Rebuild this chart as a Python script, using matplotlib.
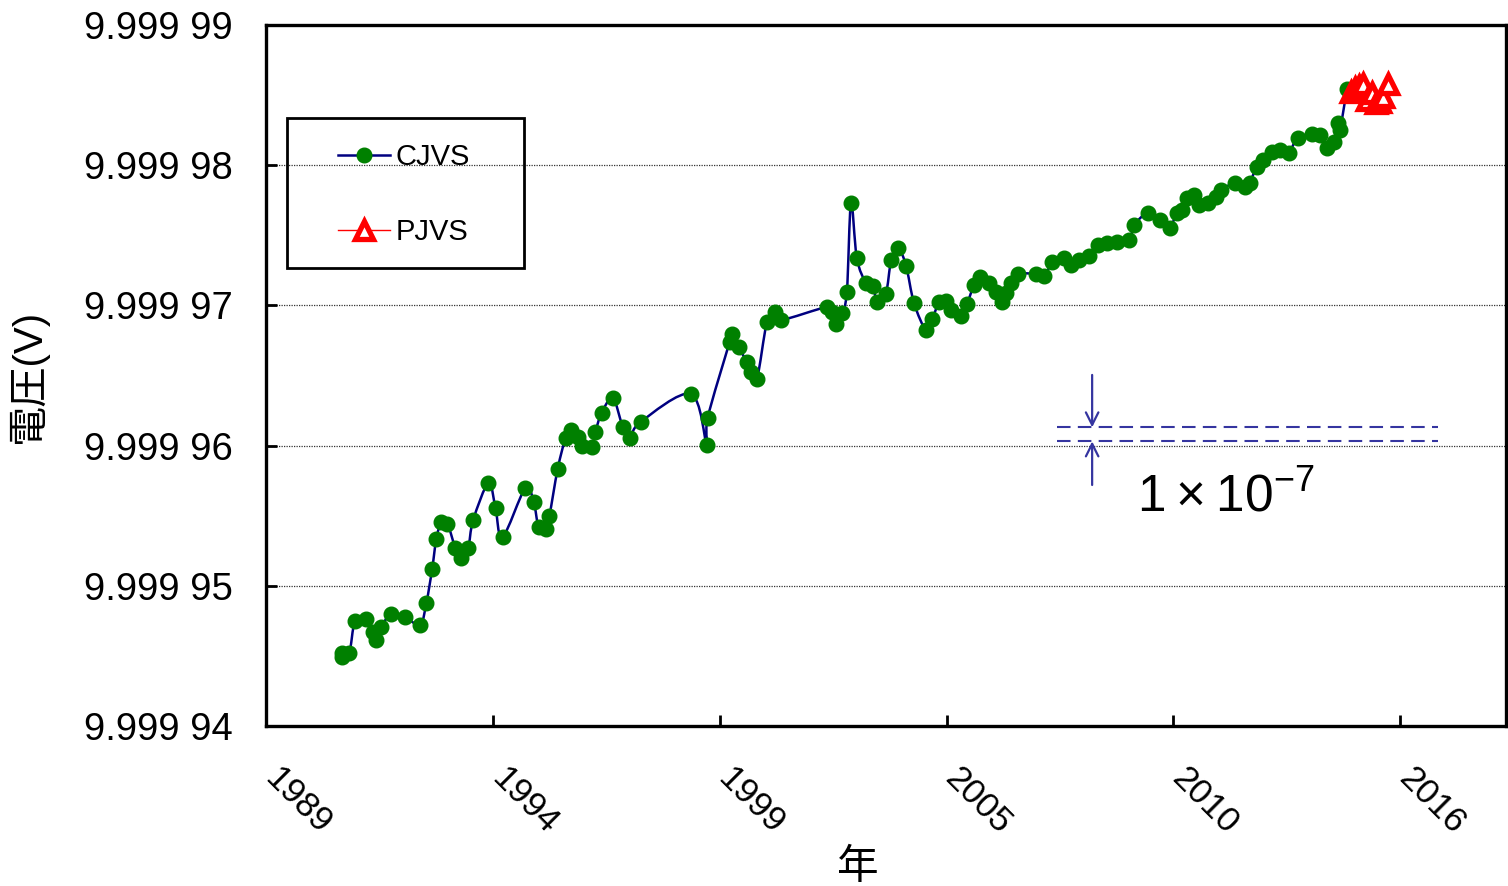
import numpy as np
import matplotlib
matplotlib.use("Agg")
import matplotlib.pyplot as plt
from matplotlib.path import Path
from matplotlib.patches import PathPatch, Rectangle
from matplotlib.lines import Line2D
from matplotlib.ticker import FuncFormatter, FixedLocator
from matplotlib.transforms import ScaledTranslation

plt.rcParams['font.family'] = ['Liberation Sans', 'Noto Sans CJK JP', 'DejaVu Sans']
plt.rcParams['mathtext.fontset'] = 'custom'
plt.rcParams['mathtext.rm'] = 'Liberation Sans'

# CJVS 測定値 (年, V)
cjvs_year = [
    1990.84, 1990.84, 1991.01, 1991.15, 1991.42, 1991.59, 1991.66, 1991.78, 1992.02, 1992.36,
    1992.72, 1992.87, 1993.01, 1993.11, 1993.23, 1993.38, 1993.57, 1993.71, 1993.88, 1994.00,
    1994.37, 1994.54, 1994.71, 1995.26, 1995.46, 1995.58, 1995.75, 1995.84, 1996.04, 1996.23,
    1996.37, 1996.52, 1996.62, 1996.86, 1996.95, 1997.10, 1997.37, 1997.61, 1997.78, 1998.04,
    1999.25, 1999.64, 1999.66, 2000.19, 2000.24, 2000.41, 2000.60, 2000.70, 2000.85, 2001.09,
    2001.28, 2001.43, 2002.54, 2002.66, 2002.76, 2002.90, 2003.02, 2003.12, 2003.26, 2003.48,
    2003.65, 2003.75, 2003.96, 2004.09, 2004.26, 2004.45, 2004.64, 2004.93, 2005.08, 2005.25,
    2005.42, 2005.54, 2005.78, 2005.92, 2006.09, 2006.24, 2006.46, 2006.62, 2006.77, 2006.87,
    2006.99, 2007.16, 2007.59, 2007.79, 2007.98, 2008.27, 2008.44, 2008.63, 2008.87, 2009.07,
    2009.31, 2009.55, 2009.84, 2009.96, 2010.28, 2010.57, 2010.81, 2010.98, 2011.12, 2011.24,
    2011.41, 2011.53, 2011.73, 2011.94, 2012.06, 2012.38, 2012.62, 2012.74, 2012.91, 2013.06,
    2013.27, 2013.47, 2013.68, 2013.90, 2014.24, 2014.43, 2014.60, 2014.77, 2014.87, 2014.92,
    2015.09,
]
cjvs_volt = [
    9.99994492, 9.99994521, 9.99994521, 9.99994749, 9.99994763, 9.99994670, 9.99994613, 9.99994706, 9.99994799, 9.99994777,
    9.99994720, 9.99994877, 9.99995120, 9.99995334, 9.99995455, 9.99995441, 9.99995270, 9.99995198, 9.99995270, 9.99995469,
    9.99995733, 9.99995555, 9.99995348, 9.99995698, 9.99995598, 9.99995419, 9.99995405, 9.99995498, 9.99995833, 9.99996054,
    9.99996111, 9.99996061, 9.99995997, 9.99995990, 9.99996097, 9.99996233, 9.99996339, 9.99996133, 9.99996054, 9.99996168,
    9.99996368, 9.99996004, 9.99996197, 9.99996739, 9.99996796, 9.99996703, 9.99996596, 9.99996525, 9.99996475, 9.99996882,
    9.99996953, 9.99996896, 9.99996989, 9.99996953, 9.99996867, 9.99996946, 9.99997096, 9.99997730, 9.99997338, 9.99997160,
    9.99997138, 9.99997024, 9.99997081, 9.99997324, 9.99997409, 9.99997281, 9.99997017, 9.99996825, 9.99996903, 9.99997024,
    9.99997031, 9.99996967, 9.99996924, 9.99997010, 9.99997146, 9.99997203, 9.99997160, 9.99997096, 9.99997024, 9.99997088,
    9.99997160, 9.99997224, 9.99997224, 9.99997210, 9.99997310, 9.99997338, 9.99997288, 9.99997324, 9.99997352, 9.99997431,
    9.99997445, 9.99997452, 9.99997466, 9.99997573, 9.99997659, 9.99997609, 9.99997552, 9.99997659, 9.99997680, 9.99997766,
    9.99997787, 9.99997716, 9.99997730, 9.99997773, 9.99997823, 9.99997873, 9.99997845, 9.99997873, 9.99997987, 9.99998037,
    9.99998094, 9.99998108, 9.99998087, 9.99998194, 9.99998223, 9.99998215, 9.99998123, 9.99998165, 9.99998301, 9.99998251,
    9.99998543,
]

# PJVS 測定値
pjvs_year = [2015.18, 2015.28, 2015.37, 2015.47, 2015.57, 2015.69, 2015.79, 2015.88, 2015.95, 2016.08]
pjvs_volt = [9.99998522, 9.99998551, 9.99998565, 9.99998579, 9.99998465,
             9.99998515, 9.99998444, 9.99998451, 9.99998486, 9.99998579]

series_names = ['CJVS', 'PJVS']
y_ticks = [9.99994, 9.99995, 9.99996, 9.99997, 9.99998, 9.99999]
band_levels = [9.9999613, 9.9999603]   # 1 µV 幅 (10 V に対し 1e-7)

# 目盛は 2000 日間隔
x_start = 1989.0
x_step = 2000 / 365.25
x_ticks = [x_start + k * x_step for k in range(6)]
x_end = x_start + 5.466 * x_step


def smooth_path(x, y):
    # Catmull-Rom 型のベジェ曲線で点を滑らかにつなぐ
    p = np.column_stack([x, y])
    n = len(p)
    verts = [p[0]]
    codes = [Path.MOVETO]
    for i in range(n - 1):
        p0 = p[i - 1] if i > 0 else p[i]
        p3 = p[i + 2] if i + 2 < n else p[i + 1]
        c1 = p[i] + (p[i + 1] - p0) / 6
        c2 = p[i + 1] - (p3 - p[i]) / 6
        verts += [c1, c2, p[i + 1]]
        codes += [Path.CURVE4] * 3
    return Path(verts, codes)


fig = plt.figure(figsize=(15.08, 8.86), dpi=100)
ax = fig.add_axes([0.1764, 0.1806, 0.8223, 0.7912])

cjvs_style = dict(marker='o', ms=10.5, mfc='#008000', mec='#008000')
pjvs_style = dict(marker='^', ms=13, mfc='white', mec='red', mew=3.8)

ax.add_patch(PathPatch(smooth_path(cjvs_year, cjvs_volt), fill=False,
                       edgecolor='#000080', lw=1.8, zorder=3))
ax.plot(cjvs_year, cjvs_volt, linestyle='none', zorder=4, **cjvs_style)

ax.add_patch(PathPatch(smooth_path(pjvs_year, pjvs_volt), fill=False,
                       edgecolor='red', lw=1.0, zorder=5))
ax.plot(pjvs_year, pjvs_volt, linestyle='none', zorder=6, **pjvs_style)

# 1e-7 幅の表示
arrow_x = 2008.94
band_color = '#3535a0'
ax.hlines(band_levels, 2008.10, 2017.28, colors=band_color, linestyles=(0, (6.5, 3.5)),
          lw=1.5, zorder=2)
arrow_props = dict(arrowstyle='->,head_length=0.9,head_width=0.45',
                   color=band_color, lw=1.6, shrinkA=0, shrinkB=0)
ax.annotate('', xy=(arrow_x, band_levels[0]), xytext=(arrow_x, 9.99996504), arrowprops=arrow_props)
ax.annotate('', xy=(arrow_x, band_levels[1]), xytext=(arrow_x, 9.99995719), arrowprops=arrow_props)
ax.text(2010.03, 9.99995526, r'$\mathregular{1 \times 10^{-7}}$', fontsize=37,
        ha='left', va='baseline')

ax.set_xlim(x_start, x_end)
ax.set_ylim(y_ticks[0], y_ticks[-1])
ax.xaxis.set_major_locator(FixedLocator(x_ticks))
ax.xaxis.set_major_formatter(FuncFormatter(lambda v, pos: f'{int(np.floor(v + 1e-6))}'))
ax.yaxis.set_major_locator(FixedLocator(y_ticks))
ax.yaxis.set_major_formatter(FuncFormatter(lambda v, pos: f'{v:.5f}'[:5] + ' ' + f'{v:.5f}'[5:]))

ax.yaxis.grid(True, linestyle=(0, (1, 1)), color='#333333', lw=0.9)
ax.set_axisbelow(True)

ax.tick_params(axis='both', direction='in', length=8, width=2)
ax.tick_params(axis='y', labelsize=27.5, pad=24)
ax.tick_params(axis='x', labelsize=25.5, pad=26)
shift = ScaledTranslation(-8 / 100, 0, fig.dpi_scale_trans)
for lab in ax.get_xticklabels():
    lab.set_rotation(-45)
    lab.set_ha('left')
    lab.set_va('top')
    lab.set_transform(lab.get_transform() + shift)
for sp in ax.spines.values():
    sp.set_linewidth(2.4)

ax.set_xlabel('年', fontsize=30)
ax.xaxis.set_label_coords(0.477, -0.174)
ax.set_ylabel('電圧(V)', fontsize=29)
ax.yaxis.set_label_coords(-0.176, 0.5)

# 凡例 (枠は別に描く)
fig.patches.append(Rectangle((287 / 1508, 1 - 268 / 886), 237 / 1508, 150 / 886,
                             transform=fig.transFigure, fill=False, edgecolor='black',
                             lw=2, zorder=10))
handles = [
    Line2D([], [], color='#000080', lw=1.8, **cjvs_style),
    Line2D([], [], color='red', lw=1.0, **pjvs_style),
]
ax.legend(handles, series_names, loc='center left',
          bbox_to_anchor=(338 / 1508, 1 - 194.5 / 886), bbox_transform=fig.transFigure,
          fontsize=21, frameon=False, borderpad=0, labelspacing=1.6, handlelength=1.78,
          handletextpad=0.2, borderaxespad=0)

fig.savefig('out.png', dpi=100)
